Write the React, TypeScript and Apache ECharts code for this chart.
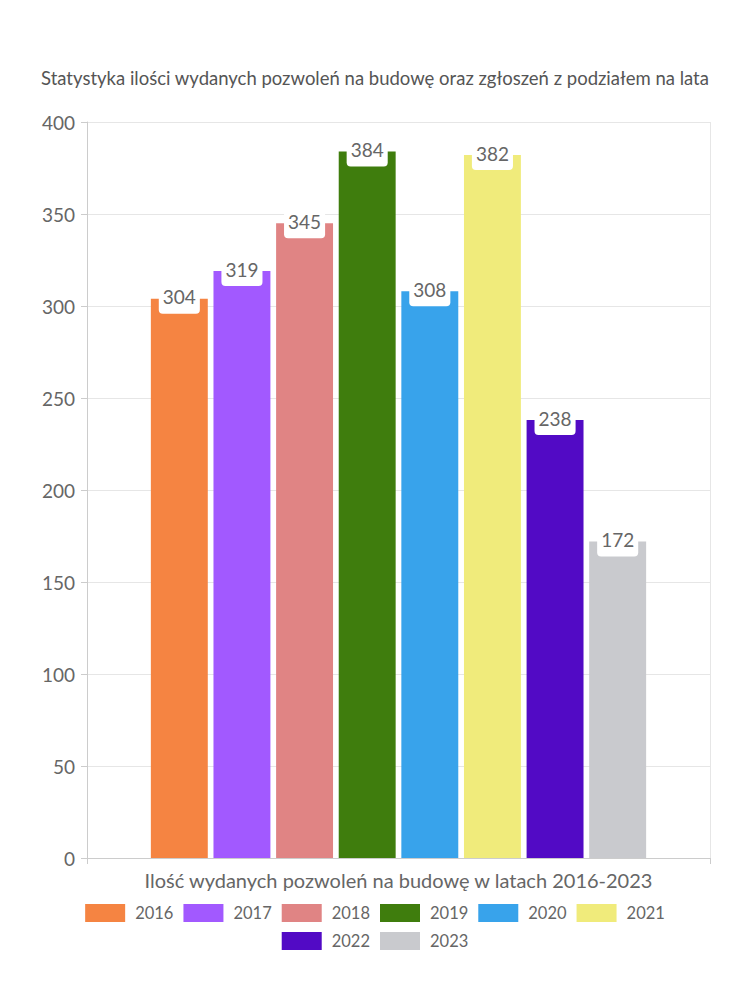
import React, { useEffect, useRef } from "react";
import * as echarts from "echarts";

const title = "Statystyka ilości wydanych pozwoleń na budowę oraz zgłoszeń z podziałem na lata";
const categories = ["Ilość wydanych pozwoleń na budowę w latach 2016-2023"];
const years = ["2016", "2017", "2018", "2019", "2020", "2021", "2022", "2023"];
const values = [304, 319, 345, 384, 308, 382, 238, 172];
const colors = ["#F58442", "#A259FF", "#E08484", "#3F7D0D", "#38A3EB", "#F0EB7B", "#520AC5", "#C9CACE"];

const FONT = "Lato, 'Noto Sans', sans-serif";

const legendBase = {
  left: "center",
  icon: "rect",
  itemWidth: 40,
  itemHeight: 18,
  itemGap: 10,
  textStyle: { fontSize: 16.5, color: "#666", fontFamily: FONT, padding: [0, 0, 0, 5] },
};

export default function App() {
  const ref = useRef<HTMLDivElement>(null);
  useEffect(() => {
    if (!ref.current) return;
    const chart = echarts.init(ref.current, undefined, { renderer: "svg" });
    chart.setOption({
      animation: false,
      textStyle: { fontFamily: FONT },
      title: {
        text: title,
        left: "center",
        top: 63,
        textStyle: { fontSize: 18.5, fontWeight: "normal", color: "#555", fontFamily: FONT },
      },
      grid: { left: 87, right: 40, top: 122, bottom: 142 },
      legend: [
        { ...legendBase, data: years.slice(0, 6), top: 899 },
        { ...legendBase, data: years.slice(6), top: 927 },
      ],
      xAxis: {
        type: "category",
        data: categories,
        axisLine: { lineStyle: { color: "#ccc" } },
        axisTick: { show: true, length: 6, lineStyle: { color: "#ccc" } },
        splitLine: { show: true, lineStyle: { color: "#e6e6e6" } },
        axisLabel: { fontSize: 20, color: "#666", margin: 12, fontFamily: FONT },
      },
      yAxis: {
        type: "value",
        min: 0,
        max: 400,
        interval: 50,
        axisLine: { show: true, lineStyle: { color: "#ccc" } },
        axisTick: { show: true, length: 6, lineStyle: { color: "#ccc" } },
        splitLine: { lineStyle: { color: "#e6e6e6" } },
        axisLabel: { fontSize: 19, color: "#666", margin: 12, fontFamily: FONT },
      },
      series: years.map((y, i) => ({
        name: y,
        type: "bar",
        data: [values[i]],
        itemStyle: { color: colors[i] },
        barGap: "10%",
        barCategoryGap: "20.5%",
        label: {
          show: true,
          position: "insideTop",
          distance: 0,
          offset: [0, -15.5],
          color: "#666",
          fontSize: 19,
          fontFamily: FONT,
          backgroundColor: "#fff",
          borderRadius: [0, 0, 4, 4],
          padding: [4, 4, 7.5, 4],
        },
      })),
    });
    return () => chart.dispose();
  }, []);
  return <div ref={ref} style={{ width: 750, height: 1000, margin: -8 }} />;
}
